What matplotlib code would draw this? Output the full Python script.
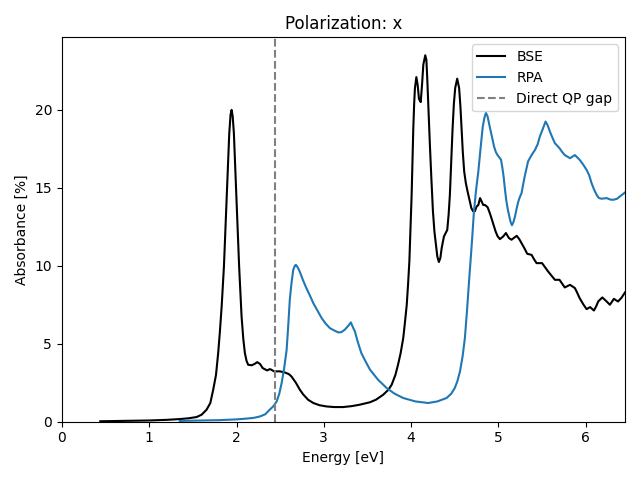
import matplotlib
matplotlib.use("Agg")
import matplotlib.pyplot as plt

# BSE spectrum (energy in eV, absorbance in %)
bse_e = [0.44, 0.8, 1.0, 1.2, 1.35, 1.45, 1.543, 1.6, 1.657, 1.70, 1.733, 1.765, 1.79,
         1.81, 1.83, 1.856, 1.886, 1.917, 1.932, 1.944, 1.956, 1.97, 2.0, 2.03,
         2.058, 2.078, 2.096, 2.115, 2.134, 2.173, 2.205, 2.237, 2.27, 2.30, 2.35,
         2.38, 2.394, 2.43, 2.497, 2.554, 2.60, 2.63, 2.68, 2.726, 2.764, 2.82,
         2.88, 2.95, 3.03, 3.12, 3.22, 3.32, 3.41, 3.53, 3.60, 3.68, 3.74, 3.777,
         3.82, 3.85, 3.88, 3.91, 3.93, 3.95, 3.965, 3.98, 3.993, 4.006, 4.016, 4.025,
         4.035, 4.044, 4.06, 4.075, 4.09, 4.11, 4.125, 4.14, 4.162, 4.175, 4.185,
         4.20, 4.215, 4.232, 4.25, 4.267, 4.284, 4.30, 4.318, 4.335, 4.35, 4.376,
         4.414, 4.43, 4.444, 4.46, 4.475, 4.49, 4.505, 4.528, 4.55, 4.565, 4.578,
         4.592, 4.608, 4.627, 4.647, 4.67, 4.69, 4.71, 4.73, 4.75, 4.77, 4.79,
         4.81, 4.826, 4.845, 4.876, 4.90, 4.92, 4.945, 4.968, 4.99, 5.017, 5.055,
         5.086, 5.12, 5.15, 5.18, 5.21, 5.24, 5.265, 5.30, 5.33, 5.38, 5.41, 5.437,
         5.50, 5.535, 5.57, 5.61, 5.647, 5.70, 5.73, 5.76, 5.82, 5.876, 5.90, 5.93,
         5.97, 6.01, 6.05, 6.094, 6.12, 6.143, 6.19, 6.24, 6.277, 6.323, 6.37,
         6.41, 6.45]
bse_a = [0.03, 0.06, 0.08, 0.12, 0.17, 0.22, 0.3, 0.45, 0.77, 1.2, 2.05, 3.0, 4.4,
         5.8, 7.4, 9.96, 14.2, 18.5, 19.7, 20.0, 19.6, 18.5, 14.2, 9.96,
         6.75, 5.3, 4.4, 3.9, 3.65, 3.62, 3.7, 3.82, 3.7, 3.44, 3.29,
         3.37, 3.35, 3.23, 3.23, 3.16, 3.05, 2.9, 2.5, 2.05, 1.75, 1.41,
         1.2, 1.06, 0.98, 0.94, 0.94, 1.0, 1.09, 1.25, 1.42, 1.73, 2.05, 2.37,
         3.0, 3.65, 4.4, 5.37, 6.4, 7.5, 8.8, 10.28, 12.5, 14.55, 16.8, 18.8,
         20.4, 21.4, 22.1, 21.6, 20.7, 20.5, 21.6, 22.9, 23.5, 23.2, 22.0,
         19.8, 17.76, 15.6, 13.5, 12.2, 11.35, 10.6, 10.24, 10.5, 11.13, 11.88,
         12.3, 13.3, 14.55, 16.8, 18.8, 20.4, 21.4, 22.0, 21.4, 20.2, 18.8,
         17.3, 16.05, 15.3, 14.76, 14.2, 13.7, 13.5, 13.5, 13.8, 13.9, 14.34,
         14.1, 13.9, 13.9, 13.76, 13.4, 13.06, 12.6, 12.2, 11.9, 11.71, 11.88,
         12.1, 11.78, 11.67, 11.8, 11.92, 11.7, 11.45, 11.1, 10.77, 10.7, 10.4, 10.17,
         10.17, 9.9, 9.63, 9.35, 9.1, 9.1, 8.85, 8.61, 8.78, 8.57, 8.3, 7.93,
         7.55, 7.22, 7.35, 7.13, 7.4, 7.71, 7.97, 7.71, 7.5, 7.88, 7.71,
         7.95, 8.29]

# RPA spectrum
rpa_e = [1.35, 1.6, 1.8, 2.0, 2.115, 2.2, 2.27, 2.33, 2.38, 2.42, 2.46, 2.49, 2.517,
         2.545, 2.574, 2.593, 2.61, 2.63, 2.65, 2.668, 2.68, 2.695, 2.71, 2.726,
         2.76, 2.80, 2.84, 2.88, 2.93, 2.975, 3.02, 3.07, 3.12, 3.165, 3.20, 3.24,
         3.28, 3.31, 3.33, 3.356, 3.39, 3.43, 3.48, 3.53, 3.62, 3.72, 3.81, 3.91,
         4.05, 4.196, 4.30, 4.406, 4.46, 4.50, 4.53, 4.56, 4.59, 4.616, 4.64,
         4.666, 4.695, 4.72, 4.745, 4.77, 4.795, 4.82, 4.84, 4.857, 4.875, 4.90,
         4.925, 4.95, 4.97, 4.99, 5.01, 5.03, 5.045, 5.06, 5.075, 5.09, 5.108,
         5.125, 5.14, 5.155, 5.172, 5.19, 5.21, 5.227, 5.245, 5.265, 5.283, 5.30,
         5.34, 5.38, 5.42, 5.45, 5.475, 5.51, 5.54, 5.565, 5.59, 5.62, 5.647,
         5.70, 5.73, 5.76, 5.82, 5.876, 5.93, 5.97, 6.01, 6.04, 6.067, 6.095,
         6.125, 6.15, 6.18, 6.24, 6.28, 6.315, 6.36, 6.39, 6.45]
rpa_a = [0.05, 0.08, 0.1, 0.15, 0.2, 0.25, 0.34, 0.48, 0.77, 0.98, 1.3, 1.8, 2.48,
         3.4, 4.6, 6.2, 7.8, 8.9, 9.74, 10.0, 10.06, 9.95, 9.8, 9.6,
         9.1, 8.57, 8.1, 7.6, 7.1, 6.65, 6.3, 6.0, 5.85, 5.73, 5.74, 5.9,
         6.15, 6.37, 6.1, 5.79, 5.1, 4.4, 3.85, 3.33, 2.7, 2.16, 1.8, 1.52,
         1.3, 1.2, 1.3, 1.52, 1.8, 2.16, 2.6, 3.23, 4.2, 5.37, 7.1,
         9.2, 11.4, 13.5, 14.9, 16.05, 17.5, 18.9, 19.5, 19.8, 19.6, 18.93,
         18.3, 17.65, 17.3, 17.1, 16.95, 16.8, 16.3, 15.7, 14.9, 14.2, 13.6,
         13.16, 12.8, 12.6, 12.8, 13.16, 13.7, 14.1, 14.4, 14.66, 15.2, 15.7,
         16.7, 17.1, 17.44, 17.8, 18.3, 18.8, 19.25, 19.0, 18.6, 18.2, 17.86,
         17.54, 17.3, 17.1, 16.9, 17.1, 16.8, 16.5, 16.15, 15.8, 15.3, 14.9,
         14.55, 14.35, 14.3, 14.34, 14.25, 14.23, 14.3, 14.44, 14.7]

qp_gap = 2.445

fig, ax = plt.subplots(figsize=(6.4, 4.8), dpi=100)
ax.plot(bse_e, bse_a, color="black", label="BSE")
ax.plot(rpa_e, rpa_a, color="tab:blue", label="RPA")
ax.axvline(qp_gap, color="grey", linestyle="--", label="Direct QP gap")
ax.set_xlim(0, 6.45)
ax.set_ylim(0, 24.65)
ax.set_xlabel("Energy [eV]")
ax.set_ylabel("Absorbance [%]")
ax.set_title("Polarization: x")
ax.legend(loc="upper right")
fig.tight_layout()
fig.savefig("out.png")
